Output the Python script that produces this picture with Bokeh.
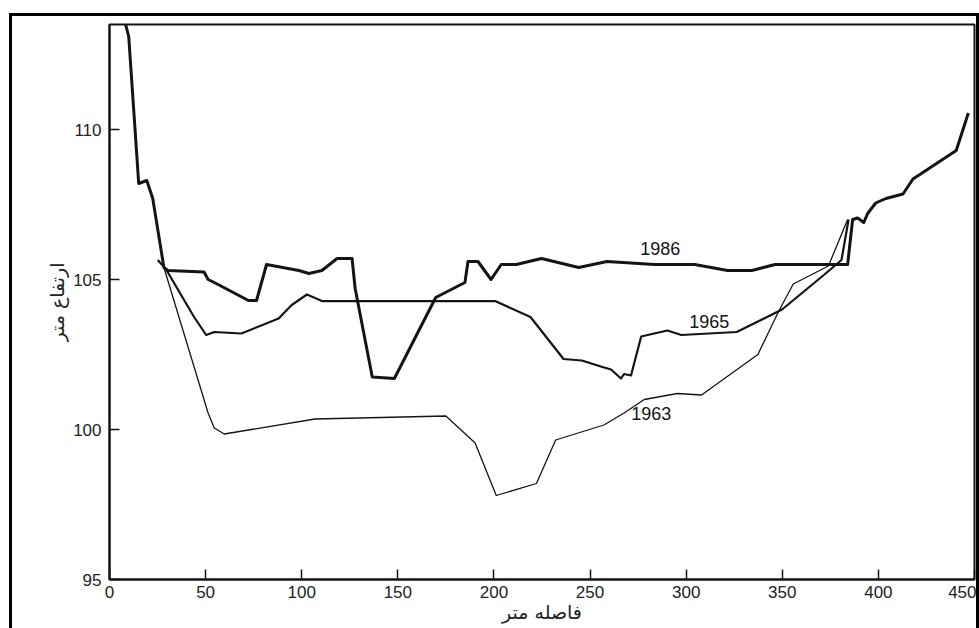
from bokeh.plotting import figure
from bokeh.models import Range1d, FixedTicker, Label
from bokeh.embed import file_html
from bokeh.resources import INLINE

# Cross-section surveys: distance along the section (m) and bed elevation (m)
dist_1986 = [8.4, 10.0, 15.2, 19.4, 22.5, 28.3, 30.4, 49.2, 51.3, 54.5, 72.3, 76.5,
             81.7, 98.5, 103.7, 110.5, 118.4, 126.2, 127.8, 136.7, 148.2, 169.7,
             184.9, 186.5, 191.7, 198.5, 203.8, 211.6, 224.7, 244.1, 258.8, 283.4,
             304.4, 321.6, 334.2, 346.3, 372.4, 384.0, 386.6, 389.2, 392.4, 394.4,
             398.6, 403.9, 412.8, 418.0, 440.5, 446.8]
elev_1986 = [113.5, 113.1, 108.2, 108.3, 107.7, 105.4, 105.3, 105.25, 105.0, 104.9,
             104.3, 104.3, 105.5, 105.3, 105.2, 105.3, 105.7, 105.7, 104.7, 101.75,
             101.7, 104.4, 104.9, 105.6, 105.6, 105.0, 105.5, 105.5, 105.7, 105.4,
             105.6, 105.5, 105.5, 105.3, 105.3, 105.5, 105.5, 105.5, 107.0, 107.05,
             106.9, 107.2, 107.55, 107.7, 107.85, 108.35, 109.3, 110.55]

dist_1965 = [25.1, 29.3, 44.0, 50.3, 54.5, 68.6, 88.0, 94.8, 102.7, 110.5, 115.8,
             200.6, 219.0, 236.2, 245.7, 255.6, 260.9, 266.1, 267.7, 271.3, 276.6,
             283.4, 290.2, 297.5, 326.3, 349.9, 373.5, 380.8, 384.5]
elev_1965 = [105.65, 105.35, 103.75, 103.15, 103.25, 103.2, 103.7, 104.15, 104.5,
             104.28, 104.28, 104.28, 103.75, 102.35, 102.3, 102.1, 102.0, 101.7,
             101.85, 101.8, 103.1, 103.2, 103.3, 103.15, 103.25, 104.0, 105.25,
             105.65, 107.0]

dist_1963 = [28.3, 51.3, 54.5, 59.7, 106.9, 175.0, 190.2, 201.2, 222.1, 232.1,
             257.2, 267.7, 278.2, 295.4, 308.0, 337.3, 347.8, 355.7, 374.0, 384.0]
elev_1963 = [105.4, 100.55, 100.05, 99.85, 100.35, 100.45, 99.55, 97.8, 98.2, 99.65,
             100.15, 100.55, 101.0, 101.2, 101.15, 102.5, 103.9, 104.85, 105.45, 107.0]

years = ["1986", "1965", "1963"]
label_x = [286.5, 312.0, 281.8]
label_y = [106.05, 103.6, 100.55]

x_ticks = [0, 50, 100, 150, 200, 250, 300, 350, 400, 450]
y_ticks = [95, 100, 105, 110]

x_title = "فاصله متر"
y_title = "ارتفاع متر"

INK = "#141414"
TICK_FONT = "Liberation Sans"
ARABIC_FONT = "DejaVu Sans"

# outer size includes the 3px side borders and the top border
p = figure(width=970, height=615, output_backend="svg", toolbar_location=None,
           x_range=Range1d(0, 450), y_range=Range1d(95, 113.5),
           min_border_left=97, min_border_right=8, min_border_top=8,
           min_border_bottom=52, background_fill_color="white",
           border_fill_color="white")

# heavy page frame on the top, left and right sides
p.styles = {
    "margin-left": "9px",
    "margin-top": "13px",
    "border-top": "3px solid black",
    "border-left": "3px solid black",
    "border-right": "3px solid black",
}

p.grid.visible = False
p.outline_line_color = INK
p.outline_line_width = 2

for ax in (p.xaxis[0], p.yaxis[0]):
    ax.axis_line_color = INK
    ax.axis_line_width = 2
    ax.major_tick_in = 10
    ax.major_tick_out = 0
    ax.major_tick_line_color = INK
    ax.major_tick_line_width = 1.5
    ax.minor_tick_line_color = None
    ax.major_label_text_font = TICK_FONT
    ax.major_label_text_font_size = "17px"
    ax.major_label_text_color = "#222222"
    ax.axis_label_text_font = ARABIC_FONT
    ax.axis_label_text_font_size = "19px"
    ax.axis_label_text_font_style = "normal"
    ax.axis_label_text_color = "#222222"

p.xaxis[0].ticker = FixedTicker(ticks=x_ticks)
p.yaxis[0].ticker = FixedTicker(ticks=y_ticks)
p.xaxis[0].major_label_standoff = 6
p.yaxis[0].major_label_standoff = 8
p.xaxis[0].axis_label = x_title
p.yaxis[0].axis_label = y_title
p.xaxis[0].axis_label_standoff = 0
p.yaxis[0].axis_label_standoff = 2

# survey profiles, heaviest line for the latest survey
p.line(dist_1963, elev_1963, line_color=INK, line_width=1.3, line_join="round")
p.line(dist_1965, elev_1965, line_color=INK, line_width=2.2, line_join="round")
p.line(dist_1986, elev_1986, line_color=INK, line_width=3.0, line_join="round")

for name, lx, ly in zip(years, label_x, label_y):
    p.add_layout(Label(x=lx, y=ly, text=name, text_align="center",
                       text_baseline="middle", text_font=TICK_FONT,
                       text_font_size="18px", text_color=INK))

open("out.html", "w").write(file_html(p, INLINE))
